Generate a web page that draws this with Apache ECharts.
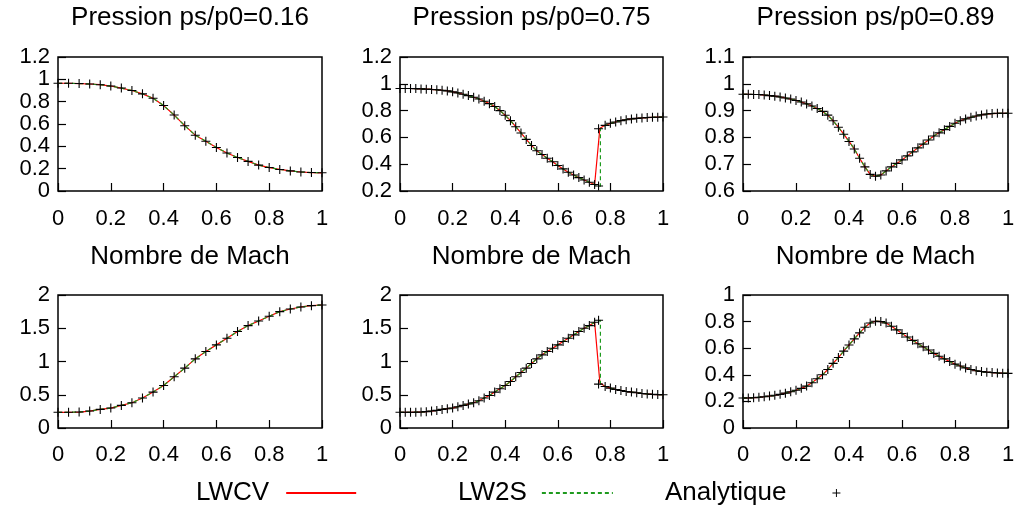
<!DOCTYPE html>
<html><head><meta charset="utf-8">
<script src="https://cdn.jsdelivr.net/npm/echarts@6/dist/echarts.min.js"></script>
<style>html,body{margin:0;padding:0;background:#fff}#c{width:1016px;height:511px}</style>
</head><body><div id="c"></div>
<script>
// ---------- data ----------
const titles = ['Pression ps/p0=0.16','Pression ps/p0=0.75','Pression ps/p0=0.89',
                'Nombre de Mach','Nombre de Mach','Nombre de Mach'];
const seriesNames = ['LWCV','LW2S','Analytique'];

const xCoarse = [0,0.04,0.08,0.12,0.16,0.2,0.24,0.28,0.32,0.36,0.4,0.44,0.48,0.52,0.56,0.6,0.64,0.68,0.72,0.76,0.8,0.84,0.88,0.92,0.96,1];
const xFine = [0,0.02,0.04,0.06,0.08,0.1,0.12,0.14,0.16,0.18,0.2,0.22,0.24,0.26,0.28,0.3,0.32,0.34,0.36,0.38,0.4,0.42,0.44,0.46,0.48,0.5,0.52,0.54,0.56,0.58,0.6,0.62,0.64,0.66,0.68,0.7,0.72,0.74,0.76,0.78,0.8,0.82,0.84,0.86,0.88,0.9,0.92,0.94,0.96,0.98,1];
const xShock = [0,0.02,0.04,0.06,0.08,0.1,0.12,0.14,0.16,0.18,0.2,0.22,0.24,0.26,0.28,0.3,0.32,0.34,0.36,0.38,0.4,0.42,0.44,0.46,0.48,0.5,0.52,0.54,0.56,0.58,0.6,0.62,0.64,0.66,0.68,0.7,0.72,0.74,0.755,0.755,0.78,0.8,0.82,0.84,0.86,0.88,0.9,0.92,0.94,0.96,0.98,1];

// pressure ps/p0 = 0.16 (analytic, also followed by both schemes)
const p016 = [0.965,0.965,0.962,0.958,0.952,0.94,0.922,0.9,0.87,0.83,0.765,0.68,0.585,0.5,0.445,0.39,0.34,0.3,0.265,0.232,0.21,0.193,0.18,0.17,0.165,0.163];
// Mach ps/p0 = 0.16
const m016 = [0.236,0.236,0.24,0.255,0.28,0.3,0.34,0.38,0.45,0.54,0.64,0.77,0.9,1.04,1.15,1.25,1.35,1.45,1.54,1.61,1.68,1.75,1.79,1.82,1.84,1.85];

// pressure ps/p0 = 0.75 (analytic with shock)
const p075 = [0.965,0.965,0.965,0.964,0.962,0.96,0.958,0.955,0.952,0.947,
  0.94,0.932,0.922,0.912,0.9,0.887,0.87,0.852,0.83,0.8,
  0.765,0.725,0.68,0.633,0.585,0.54,0.5,0.472,0.445,0.418,
  0.39,0.365,0.34,0.32,0.3,0.282,0.265,0.248,
  0.237,0.665,
  0.69,0.705,0.715,0.725,0.732,0.738,0.742,0.745,0.748,0.75,0.751,0.752];
// Mach ps/p0 = 0.75
const m075 = [0.236,0.236,0.236,0.238,0.24,0.246,0.255,0.265,0.28,0.29,
  0.3,0.32,0.34,0.36,0.38,0.41,0.45,0.49,0.54,0.59,
  0.64,0.7,0.77,0.835,0.9,0.97,1.04,1.1,1.15,1.2,
  1.25,1.3,1.35,1.4,1.45,1.5,1.54,1.59,
  1.62,0.66,
  0.625,0.6,0.58,0.565,0.55,0.54,0.53,0.52,0.512,0.506,0.502,0.5];
// numerical shock profiles
const lwcvShockX = [0.743,0.76];
const lwcvShockP = [0.24,0.668];
const lwcvShockM = [1.61,0.68];
const lw2sShockX = [0.762,0.762];
const lw2sShockP = [0.235,0.665];
const lw2sShockM = [1.62,0.66];

// pressure ps/p0 = 0.89
const p089 = [0.961,0.961,0.96,0.96,0.958,0.956,0.954,0.951,0.947,0.943,
  0.938,0.932,0.925,0.917,0.908,0.897,0.883,0.862,0.838,0.812,
  0.785,0.757,0.722,0.69,0.662,0.655,0.66,0.675,0.69,0.703,
  0.716,0.731,0.746,0.761,0.775,0.79,0.805,0.817,0.829,0.841,
  0.853,0.862,0.869,0.875,0.88,0.884,0.887,0.889,0.89,0.89,0.89];
// Mach ps/p0 = 0.89
const m089 = [0.225,0.226,0.228,0.231,0.235,0.24,0.246,0.253,0.262,0.272,
  0.284,0.298,0.315,0.34,0.37,0.4,0.44,0.486,0.53,0.578,
  0.624,0.67,0.715,0.757,0.79,0.803,0.8,0.789,0.765,0.738,
  0.71,0.684,0.659,0.634,0.61,0.586,0.561,0.54,0.52,0.5,
  0.48,0.466,0.452,0.44,0.43,0.425,0.42,0.417,0.414,0.412,0.411];

// axis ranges [min, max, interval]
const yRanges = [[0,1.2,0.2],[0.2,1.2,0.2],[0.6,1.1,0.1],[0,2,0.5],[0,2,0.5],[0,1,0.2]];
const xRange = [0,1,0.2];

// ---------- build ----------
const FONT = "'Liberation Sans', Arial, Helvetica, sans-serif";
const pairs = (xs, ys) => xs.map((x, i) => [x, ys[i]]);
function shockLine(xs, ys, sx, sy) {
  const out = [];
  xs.forEach((x, i) => { if (x <= 0.74) out.push([x, ys[i]]); });
  sx.forEach((x, i) => out.push([x, sy[i]]));
  xs.forEach((x, i) => { if (x >= 0.78) out.push([x, ys[i]]); });
  return out;
}

const panelData = [
  {a: pairs(xCoarse, p016), l1: pairs(xCoarse, p016), l2: pairs(xCoarse, p016)},
  {a: pairs(xShock, p075), l1: shockLine(xShock, p075, lwcvShockX, lwcvShockP), l2: shockLine(xShock, p075, lw2sShockX, lw2sShockP)},
  {a: pairs(xFine, p089), l1: pairs(xFine, p089), l2: pairs(xFine, p089)},
  {a: pairs(xCoarse, m016), l1: pairs(xCoarse, m016), l2: pairs(xCoarse, m016)},
  {a: pairs(xShock, m075), l1: shockLine(xShock, m075, lwcvShockX, lwcvShockM), l2: shockLine(xShock, m075, lw2sShockX, lw2sShockM)},
  {a: pairs(xFine, m089), l1: pairs(xFine, m089), l2: pairs(xFine, m089)}
];

// layout
const cols = [[58,264],[400,263],[743,265]];
const rows = [[57,134],[295,133]];
const titleY = [17.5, 257];
const labelMargin = [17, 16];

const PLUS = 'path://M4.4,0H5.6V4.4H10V5.6H5.6V10H4.4V5.6H0V4.4H4.4Z';
const grid = [], xAxis = [], yAxis = [], series = [], graphic = [];
for (let i = 0; i < 6; i++) {
  const row = Math.floor(i / 3);
  const c = cols[i % 3], r = rows[row];
  grid.push({left: c[0], top: r[0], width: c[1], height: r[1], show: true,
    borderColor: '#000', borderWidth: 1.5, backgroundColor: 'transparent', outerBoundsMode: 'none', containLabel: false});
  xAxis.push({gridIndex: i, type: 'value', min: xRange[0], max: xRange[1], interval: xRange[2],
    axisLine: {show: false}, splitLine: {show: false},
    axisTick: {show: true, inside: true, length: 8, lineStyle: {color: '#000', width: 1.2}},
    axisLabel: {color: '#000', fontSize: 22, fontFamily: FONT, margin: labelMargin[row]}});
  const yr = yRanges[i];
  yAxis.push({gridIndex: i, type: 'value', min: yr[0], max: yr[1], interval: yr[2],
    axisLine: {show: false}, splitLine: {show: false},
    axisTick: {show: true, inside: true, length: 8, lineStyle: {color: '#000', width: 1.2}},
    axisLabel: {color: '#000', fontSize: 22, fontFamily: FONT, margin: 8}});
  const d = panelData[i];
  series.push({name: 'LWCV', type: 'line', xAxisIndex: i, yAxisIndex: i, data: d.l1,
    showSymbol: false, symbol: 'none', lineStyle: {color: '#ff0000', width: 1.2}, itemStyle: {color: '#ff0000'}, z: 2});
  series.push({name: 'LW2S', type: 'line', xAxisIndex: i, yAxisIndex: i, data: d.l2,
    showSymbol: false, symbol: 'none', lineStyle: {color: '#1e9a1e', width: 1.2, type: [4, 3]}, itemStyle: {color: '#1e9a1e'}, z: 3});
  series.push({name: 'Analytique', type: 'scatter', xAxisIndex: i, yAxisIndex: i, data: d.a,
    symbol: PLUS, symbolSize: 9, clip: false, itemStyle: {color: '#000', opacity: 1}, z: 4});
  graphic.push({type: 'text', x: c[0] + c[1] / 2, y: titleY[row],
    style: {text: titles[i], font: '26px ' + FONT, fill: '#000', textAlign: 'center', textVerticalAlign: 'middle'}});
}

const legTxt = (pad) => ({fontSize: 26, fontFamily: FONT, color: '#000', padding: [0, pad, 0, 0]});
const legend = [
  {data: ['LWCV'], left: 196, top: 480, align: 'right', itemWidth: 70, itemHeight: 14, selectedMode: false,
    textStyle: legTxt(12), padding: 0, itemStyle: {opacity: 0}},
  {data: ['LW2S'], left: 458, top: 480, align: 'right', itemWidth: 71, itemHeight: 14, selectedMode: false,
    textStyle: legTxt(10), padding: 0, itemStyle: {opacity: 0}},
  {data: ['Analytique'], left: 665, top: 480, align: 'right', itemWidth: 8, itemHeight: 8, selectedMode: false,
    textStyle: legTxt(41), padding: 0}
];

const chart = echarts.init(document.getElementById('c'), null, {renderer: 'canvas'});
chart.setOption({animation: false, backgroundColor: '#fff', grid, xAxis, yAxis, series, legend, graphic, tooltip: {show: false}});
</script></body></html>
